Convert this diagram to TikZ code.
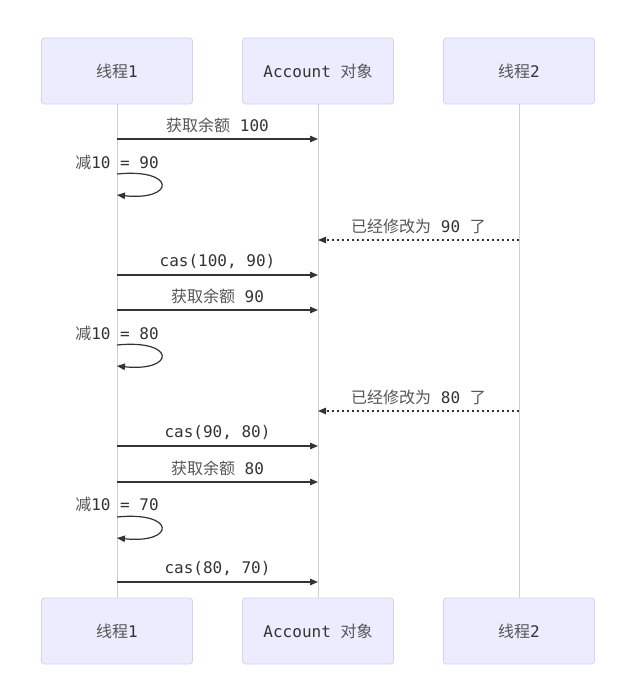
\documentclass[tikz,border=0pt]{standalone}
\usepackage{fontspec}
\usepackage{xcolor}
\usepackage{tikz}
\usetikzlibrary{calc,positioning,arrows.meta}
\setmainfont{DejaVu Sans Mono}
\setmonofont{DejaVu Sans Mono}
\newfontfamily\cjkfont{Noto Sans CJK SC}
\newcommand{\zh}[1]{{\cjkfont #1}}
\definecolor{actFill}{HTML}{ECECFF}
\definecolor{actLine}{HTML}{D2D2F2}
\definecolor{lifeGray}{HTML}{D0D0D0}
\definecolor{inkGray}{HTML}{333333}
\definecolor{zhGray}{HTML}{555555}
\tikzset{
    actor/.style={draw=actLine, fill=actFill, rounded corners=3pt, line width=0.8pt,
                  minimum width=151pt, minimum height=66pt, inner sep=0pt,
                  font=\fontsize{16pt}{18pt}\selectfont, text=inkGray},
    lifeline/.style={draw=lifeGray, line width=1pt},
    msg/.style={-{Triangle[length=8pt,width=6.5pt]}, draw=inkGray, line width=1.2pt},
    retmsg/.style={msg, dash pattern=on 2.5pt off 2.5pt},
    selfmsg/.style={-{Triangle[length=8pt,width=6.5pt]}, draw=inkGray, line width=1.2pt},
    msglbl/.style={font=\fontsize{16pt}{18pt}\selectfont, text=inkGray, inner sep=0pt},
}

\begin{document}
\begin{tikzpicture}[x=1pt,y=-1pt]
\useasboundingbox (0,0) rectangle (635,693);

% ---------------- ACTORS ----------------
\node[actor] (t1Top)  at (117,71)  {\zh{\textcolor{zhGray}{线程}}1};
\node[actor] (accTop) at (318,71)  {Account \zh{\textcolor{zhGray}{对象}}};
\node[actor] (t2Top)  at (519,71)  {\zh{\textcolor{zhGray}{线程}}2};

\node[actor] (t1Bot)  at (117,631) {\zh{\textcolor{zhGray}{线程}}1};
\node[actor] (accBot) at (318,631) {Account \zh{\textcolor{zhGray}{对象}}};
\node[actor] (t2Bot)  at (519,631) {\zh{\textcolor{zhGray}{线程}}2};

\draw[lifeline] (t1Top.south)  -- (t1Bot.north);
\draw[lifeline] (accTop.south) -- (accBot.north);
\draw[lifeline] (t2Top.south)  -- (t2Bot.north);

% round 1: read 100
\draw[msg] (t1Top |- 0,139) -- (accTop |- 0,139)
  node[msglbl, midway, above=6pt] {\zh{\textcolor{zhGray}{获取余额}} 100};
\node[msglbl] (sub1) at (t1Top |- 0,162) {\zh{\textcolor{zhGray}{减}}10 = 90};
\draw[selfmsg] (t1Top |- 0,174) .. controls (176,168) and (176,201) .. (t1Top |- 0,195);
% thread 2 changes the value
\draw[retmsg] (t2Top |- 0,240) -- (accTop |- 0,240)
  node[msglbl, midway, above=6pt] {\zh{\textcolor{zhGray}{已经修改为}} 90 \zh{\textcolor{zhGray}{了}}};
\draw[msg] (t1Top |- 0,275) -- (accTop |- 0,275)
  node[msglbl, midway, above=6pt] {cas(100, 90)};

% round 2: read 90
\draw[msg] (t1Top |- 0,310) -- (accTop |- 0,310)
  node[msglbl, midway, above=6pt] {\zh{\textcolor{zhGray}{获取余额}} 90};
\node[msglbl] (sub2) at (t1Top |- 0,333) {\zh{\textcolor{zhGray}{减}}10 = 80};
\draw[selfmsg] (t1Top |- 0,345) .. controls (176,339) and (176,372) .. (t1Top |- 0,366);
\draw[retmsg] (t2Top |- 0,411) -- (accTop |- 0,411)
  node[msglbl, midway, above=6pt] {\zh{\textcolor{zhGray}{已经修改为}} 80 \zh{\textcolor{zhGray}{了}}};
\draw[msg] (t1Top |- 0,446) -- (accTop |- 0,446)
  node[msglbl, midway, above=6pt] {cas(90, 80)};

% round 3: read 80
\draw[msg] (t1Top |- 0,482) -- (accTop |- 0,482)
  node[msglbl, midway, above=6pt] {\zh{\textcolor{zhGray}{获取余额}} 80};
\node[msglbl] (sub3) at (t1Top |- 0,504) {\zh{\textcolor{zhGray}{减}}10 = 70};
\draw[selfmsg] (t1Top |- 0,517) .. controls (176,511) and (176,544) .. (t1Top |- 0,538);
\draw[msg] (t1Top |- 0,582) -- (accTop |- 0,582)
  node[msglbl, midway, above=6pt] {cas(80, 70)};

\end{tikzpicture}
\end{document}
